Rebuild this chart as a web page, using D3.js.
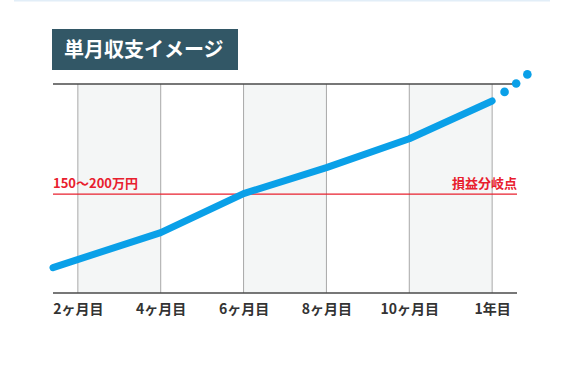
<html>
  <head>
    <meta charset="utf-8">
    <script type="text/javascript" src="https://d3js.org/d3.v7.min.js"></script>
    <style>
      body { margin: 0; background: #fff; }
      text { font-family: "Noto Sans CJK JP", "Noto Sans", sans-serif; font-weight: bold; }
    </style>
  </head>
  <body>
    <script>
        // months on the x axis and the tick labels under them
        var tickMonths = [2, 4, 6, 8, 10, 12];
        var tickLabels = ["2ヶ月目", "4ヶ月目", "6ヶ月目", "8ヶ月目", "10ヶ月目", "1年目"];

        // monthly income (万円), solid part of the line
        var lineMonths = [1.4, 4, 6, 8, 10, 12];
        var lineValues = [45, 107, 176, 222, 273, 340];

        // the dotted continuation after one year
        var dotMonths = [12.3, 12.58, 12.85];
        var dotValues = [356, 371, 387];

        // break-even level
        var breakEven = 175;

        var width = 564, height = 376;

        var svg = d3.select("body").append("svg")
            .attr("width", width)
            .attr("height", height);

        var x = d3.scaleLinear().domain([1.4, 12.6]).range([53, 517]);
        var y = d3.scaleLinear().domain([0, 370]).range([293, 84]);

        // thin light line at very top
        svg.append("line")
            .attr("x1", 14).attr("x2", 550)
            .attr("y1", 0.5).attr("y2", 0.5)
            .style("stroke", "#e2eef8").style("stroke-width", 2);

        // title box
        svg.append("rect")
            .attr("x", 52).attr("y", 29)
            .attr("width", 186).attr("height", 41)
            .style("fill", "#325766");
        svg.append("text")
            .attr("x", 64).attr("y", 57)
            .style("fill", "#fff")
            .style("font-size", "20px")
            .text("単月収支イメージ");

        // shaded bands between alternate ticks
        var bands = [[2, 4], [6, 8], [10, 12]];
        svg.append("g").selectAll("rect")
            .data(bands)
            .enter().append("rect")
            .attr("x", function(d) { return x(d[0]); })
            .attr("width", function(d) { return x(d[1]) - x(d[0]); })
            .attr("y", y(370))
            .attr("height", y(0) - y(370))
            .style("fill", "#f4f6f6");

        // vertical grid lines
        svg.append("g").selectAll("line")
            .data(tickMonths)
            .enter().append("line")
            .attr("x1", function(d) { return x(d); })
            .attr("x2", function(d) { return x(d); })
            .attr("y1", y(370)).attr("y2", y(0))
            .style("stroke", "#a8a8a8").style("stroke-width", 1);

        // top and bottom frame lines
        svg.append("g").selectAll("line")
            .data([0, 370])
            .enter().append("line")
            .attr("x1", x.range()[0]).attr("x2", x.range()[1])
            .attr("y1", function(d) { return y(d); })
            .attr("y2", function(d) { return y(d); })
            .style("stroke", "#4a4a4a").style("stroke-width", 1.5);

        // x axis labels
        var xAxis = d3.axisBottom(x)
            .tickValues(tickMonths)
            .tickSize(0)
            .tickPadding(11)
            .tickFormat(function(d, i) { return tickLabels[i]; });
        var ax = svg.append("g")
            .attr("transform", "translate(0," + y(0) + ")")
            .call(xAxis);
        ax.select(".domain").remove();
        ax.selectAll("text")
            .style("font-size", "14px")
            .style("fill", "#333")
            .style("font-family", "'Noto Sans CJK JP', sans-serif")
            .style("font-weight", "bold");

        // break-even line and labels
        svg.append("line")
            .attr("x1", x.range()[0]).attr("x2", x.range()[1])
            .attr("y1", y(breakEven)).attr("y2", y(breakEven))
            .style("stroke", "#e8202e").style("stroke-width", 1.2);
        svg.append("text")
            .attr("x", x.range()[0]).attr("y", y(breakEven) - 6)
            .style("fill", "#e8202e").style("font-size", "13px")
            .text("150〜200万円");
        svg.append("text")
            .attr("x", x.range()[1]).attr("y", y(breakEven) - 6)
            .attr("text-anchor", "end")
            .style("fill", "#e8202e").style("font-size", "13px")
            .text("損益分岐点");

        // income line
        var line = d3.line()
            .x(function(d, i) { return x(lineMonths[i]); })
            .y(function(d) { return y(d); });
        svg.append("path")
            .datum(lineValues)
            .attr("d", line)
            .style("fill", "none")
            .style("stroke", "#0aa0e8")
            .style("stroke-width", 7)
            .style("stroke-linejoin", "round")
            .style("stroke-linecap", "round");

        svg.append("g").selectAll("circle")
            .data(dotValues)
            .enter().append("circle")
            .attr("cx", function(d, i) { return x(dotMonths[i]); })
            .attr("cy", function(d) { return y(d); })
            .attr("r", 4.3)
            .style("fill", "#0aa0e8");
    </script>
  </body>
</html>
